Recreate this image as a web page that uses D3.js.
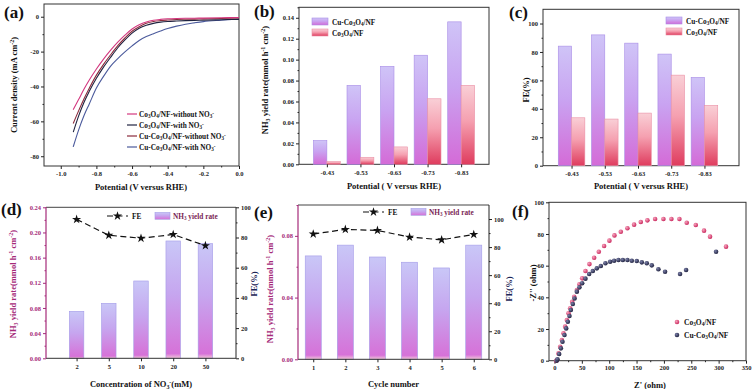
<!DOCTYPE html>
<html>
<head>
<meta charset="utf-8">
<script src="https://cdn.jsdelivr.net/npm/d3@7/dist/d3.min.js"></script>
<style>
body { margin: 0; background: #fff; }
</style>
</head>
<body>
<svg id="fig" width="753" height="389"></svg>
<script>
// ---- (a) LSV curves
var lsvPotential = [-0.93, -0.90, -0.87, -0.84, -0.80, -0.76, -0.72, -0.68, -0.64, -0.60, -0.56,
                    -0.52, -0.48, -0.44, -0.40, -0.35, -0.30, -0.25, -0.20, -0.10, 0.0];
var lsvCoWithout = [-53.3, -47.5, -41.6, -36.3, -30.0, -24.3, -19.2, -14.6, -10.6, -7.0, -4.6,
                    -3.0, -2.0, -1.5, -1.2, -1.0, -0.9, -0.85, -0.8, -0.6, -0.4];
var lsvCoWith = [-66.2, -57.0, -49.2, -42.8, -35.3, -28.9, -23.2, -17.8, -13.3, -9.4, -6.6,
                 -4.9, -3.8, -3.1, -2.7, -2.45, -2.25, -2.1, -1.95, -1.7, -1.5];
var lsvCuWithout = [-61.2, -54.0, -47.2, -41.0, -33.5, -27.3, -21.8, -16.6, -12.2, -8.3, -5.7,
                    -3.8, -2.7, -2.2, -1.9, -1.6, -1.45, -1.35, -1.25, -1.0, -0.7];
var lsvCuWith = [-74.6, -65.0, -56.8, -50.0, -40.9, -34.2, -28.3, -24.0, -20.2, -16.7, -13.6,
                 -11.4, -9.7, -8.2, -6.8, -5.4, -4.3, -3.5, -2.8, -2.0, -1.3];
var lsvNames = ["Co_{3}O_{4}/NF-without NO_{3}^{-}", "Co_{3}O_{4}/NF-with NO_{3}^{-}",
                "Cu-Co_{3}O_{4}/NF-without NO_{3}^{-}", "Cu-Co_{3}O_{4}/NF-with NO_{3}^{-}"];

// ---- (b), (c) potential series
var potentialCats = ["-0.43", "-0.53", "-0.63", "-0.73", "-0.83"];
var yieldCu = [0.0227, 0.0754, 0.0936, 0.1042, 0.1361];
var yieldCo = [0.0026, 0.0067, 0.0166, 0.0626, 0.0754];
var feCu = [84.1, 92.0, 86.2, 78.5, 62.1];
var feCo = [33.7, 32.8, 37.0, 63.7, 42.4];

// ---- (d) nitrate concentration
var concCats = ["2", "5", "10", "20", "50"];
var concYield = [0.0747, 0.0874, 0.1229, 0.1865, 0.1823];
var concFE = [92.0, 81.5, 79.5, 82.0, 74.6];

// ---- (e) cycles
var cycleCats = ["1", "2", "3", "4", "5", "6"];
var cycleYield = [0.067, 0.074, 0.0663, 0.0629, 0.0592, 0.074];
var cycleFE = [89.3, 92.6, 91.9, 87.1, 85.2, 89.0];

// ---- (f) Nyquist points
var eisCoX = [3.0, 4.4, 7.3, 10.4, 13.5, 16.5, 19.5, 22.6, 25.6, 28.7, 32.3, 36.0, 40.9, 45.6, 50.6, 56.6,
              63.9, 72.5, 81.0, 90.7, 100.4, 109.6, 121.2, 133.3, 145.5, 157.7, 169.8, 183.9, 199.1,
              213.7, 228.3, 241.7, 258.2, 273.3, 284.3, 313.5];
var eisCoY = [0.0, 0.4, 4.6, 8.8, 13.1, 17.3, 21.5, 25.7, 29.9, 33.1, 37.2, 40.4, 44.6, 48.2, 52.0, 56.6,
              61.0, 65.0, 68.8, 72.4, 75.8, 79.1, 81.4, 83.6, 85.9, 87.6, 88.6, 89.5, 89.5,
              89.5, 89.5, 87.1, 85.7, 82.1, 78.3, 72.0];
var eisCuX = [4.0, 5.5, 8.6, 11.7, 14.6, 18.3, 21.4, 24.4, 27.4, 29.9, 33.5, 36.7, 40.9, 45.6, 50.6, 56.6,
              63.4, 70.1, 77.4, 84.7, 93.1, 101.7, 109.0, 116.9, 124.9, 133.3, 141.3, 150.4, 159.6,
              168.7, 177.8, 189.9, 202.1, 229.5, 240.5, 295.3];
var eisCuY = [0.0, 0.9, 4.2, 7.8, 12.0, 16.2, 20.4, 24.6, 28.2, 32.0, 35.8, 39.3, 43.6, 46.3, 48.9, 51.8,
              54.7, 56.6, 58.3, 59.8, 61.5, 62.5, 63.1, 63.6, 63.6, 63.6, 63.1, 62.9, 62.1,
              61.5, 60.2, 57.7, 56.2, 54.7, 57.3, 68.8];

var FONT = '"Liberation Serif", "Times New Roman", serif';
var MAG = "#a52a7a";   // left axis colour in (d),(e)
var NAVY = "#1b2557";
var svg = d3.select("#fig");
var defs = svg.append("defs");

function grad(id, stops) {
    var g = defs.append("linearGradient").attr("id", id)
        .attr("x1", 0).attr("y1", 0).attr("x2", 0).attr("y2", 1);
    stops.forEach(function(s) { g.append("stop").attr("offset", s[0]).attr("stop-color", s[1]); });
}
grad("gPurple", [[0, "#cfc4f7"], [0.45, "#c9a3f1"], [1, "#d46bd7"]]);
grad("gPink", [[0, "#f9cfd6"], [0.45, "#f5a0b0"], [1, "#df3c5e"]]);
grad("gViolet", [[0, "#c9c7f7"], [0.45, "#c6a6ef"], [0.96, "#d672d8"], [1, "#f1c9d9"]]);

function radial(id, c0, c1) {
    var g = defs.append("radialGradient").attr("id", id).attr("cx", 0.35).attr("cy", 0.35).attr("r", 0.7);
    g.append("stop").attr("offset", 0).attr("stop-color", c0);
    g.append("stop").attr("offset", 1).attr("stop-color", c1);
}
radial("rPink", "#f7a3bd", "#c8235a");
radial("rDark", "#7a7fa8", "#1d1f3c");

// text with _{sub} and ^{sup}
function rich(sel, s) {
    s.split(/(_\{[^}]*\}|\^\{[^}]*\})/).forEach(function(p) {
        if (!p) return;
        if (p[0] == "_") sel.append("tspan").attr("baseline-shift", "-25%").attr("font-size", "70%").text(p.slice(2, -1));
        else if (p[0] == "^") sel.append("tspan").attr("baseline-shift", "45%").attr("font-size", "70%").text(p.slice(2, -1));
        else sel.append("tspan").text(p);
    });
    return sel;
}

function label(x, y, s, size, opts) {
    opts = opts || {};
    var t = svg.append("text")
        .attr("font-family", FONT).attr("font-weight", "bold")
        .attr("font-size", size)
        .attr("text-anchor", opts.anchor || "start")
        .attr("fill", opts.color || "#111");
    if (opts.rotate) t.attr("transform", "translate(" + x + "," + y + ") rotate(-90)");
    else t.attr("x", x).attr("y", y);
    return rich(t, s);
}

function hy(f) { return function(d) { return f(d).replace("\u2212", "-"); }; }

function axis(ax, tx, ty, color, size) {
    var g = svg.append("g").attr("transform", "translate(" + tx + "," + ty + ")").call(ax);
    g.attr("font-family", FONT).attr("font-weight", "bold").attr("font-size", size || 6.5)
        .attr("color", color || "#222");
    g.select(".domain").remove();
    return g;
}

function frame(x0, x1, y0, y1) {
    svg.append("rect").attr("x", x0).attr("y", y0).attr("width", x1 - x0).attr("height", y1 - y0)
        .attr("fill", "none").attr("stroke", "#333").attr("stroke-width", 1);
}

// panel letters
[["(a)", 4, 18], ["(b)", 254, 17], ["(c)", 509, 18], ["(d)", 1, 215], ["(e)", 254, 218], ["(f)", 512, 217]]
    .forEach(function(p) { label(p[1], p[2], p[0], 17); });

// ================= (a)
(function() {
    var x = d3.scaleLinear().domain([-1.094, 0]).range([44, 239]);
    var y = d3.scaleLinear().domain([-85.6, 7.3]).range([166, 4]);
    frame(44, 239, 4, 166);
    axis(d3.axisBottom(x).tickValues([-1, -0.8, -0.6, -0.4, -0.2, 0]).tickSize(3).tickPadding(2)
        .tickFormat(hy(d3.format(".1f"))), 0, 166);
    axis(d3.axisBottom(x).tickValues([-0.9, -0.7, -0.5, -0.3, -0.1]).tickSize(1.5).tickFormat(""), 0, 166);
    axis(d3.axisLeft(y).tickValues([0, -20, -40, -60, -80]).tickSize(3).tickPadding(2)
        .tickFormat(hy(d3.format("d"))), 44, 0);
    axis(d3.axisLeft(y).tickValues([-10, -30, -50, -70]).tickSize(1.5).tickFormat(""), 44, 0);

    var series = [lsvCoWithout, lsvCoWith, lsvCuWithout, lsvCuWith];
    var colors = ["#d3377f", "#1f2340", "#8a2b3c", "#4b5a9c"];
    var line = d3.line()
        .x(function(d, i) { return x(lsvPotential[i]); })
        .y(function(d) { return y(d); })
        .curve(d3.curveMonotoneX);
    // draw in back-to-front order so the pink curve sits on top
    [3, 1, 2, 0].forEach(function(k) {
        svg.append("path").datum(series[k]).attr("d", line)
            .attr("fill", "none").attr("stroke", colors[k]).attr("stroke-width", 1.1);
    });
    lsvNames.forEach(function(n, i) {
        var yy = 114 + i * 11;
        svg.append("line").attr("x1", 127).attr("x2", 137).attr("y1", yy).attr("y2", yy)
            .attr("stroke", colors[i]).attr("stroke-width", 1.2);
        label(139, yy + 2.5, n, 7.3);
    });
    label(17, 85, "Current density (mA cm^{-2})", 8.5, {rotate: true, anchor: "middle"});
    label(141, 190, "Potential (V versus RHE)", 8.5, {anchor: "middle"});
})();

// ================= (b) & (c) paired bars
function pairedBars(o) {
    var x = d3.scalePoint().domain(potentialCats).range(o.xr).padding(o.pad);
    var y = d3.scaleLinear().domain(o.ydom).range([o.y1, o.y0]);
    var w = x.step() * 0.4;
    frame(o.x0, o.x1, o.y0, o.y1);
    var sets = [[o.a, "url(#gPurple)", "#a88ce6", 0], [o.b, "url(#gPink)", "#ea8fa5", 1]];
    sets.forEach(function(s) {
        svg.append("g").selectAll("rect").data(s[0]).enter().append("rect")
            .attr("x", function(d, i) { return x(potentialCats[i]) - w + s[3] * w; })
            .attr("y", function(d) { return y(d); })
            .attr("width", w)
            .attr("height", function(d) { return y(0) - y(d); })
            .attr("fill", s[1]).attr("stroke", s[2]).attr("stroke-width", 0.6);
    });
    axis(d3.axisBottom(x).tickSize(3).tickPadding(3), 0, o.y1);
    axis(d3.axisLeft(y).tickValues(o.ticks).tickSize(3).tickPadding(2).tickFormat(o.fmt), o.x0, 0);
    axis(d3.axisLeft(y).tickValues(o.minor).tickSize(1.5).tickFormat(""), o.x0, 0);
    // legend
    [["Cu-Co_{3}O_{4}/NF", "url(#gPurple)", "#a88ce6"], ["Co_{3}O_{4}/NF", "url(#gPink)", "#ea8fa5"]]
        .forEach(function(l, i) {
            svg.append("rect").attr("x", o.lx).attr("y", o.ly + i * 11).attr("width", 16).attr("height", 7)
                .attr("fill", l[1]).attr("stroke", l[2]).attr("stroke-width", 0.6);
            label(o.lx + 20, o.ly + i * 11 + 6.5, l[0], 7.3);
        });
    label(o.ylx, o.yly, o.ylabel, 8.5, {rotate: true, anchor: "middle"});
    label((o.x0 + o.x1) / 2, 189, "Potential ( V versus RHE)", 8.5, {anchor: "middle"});
}

pairedBars({
    a: yieldCu, b: yieldCo, xr: [299, 489], pad: 0.83, x0: 299, x1: 489, y0: 7.3, y1: 164.3,
    ydom: [0, 0.15], ticks: d3.range(0, 0.1401, 0.02), minor: d3.range(0.01, 0.151, 0.02),
    fmt: d3.format(".2f"), lx: 312, ly: 18, ylx: 268, yly: 80,
    ylabel: "NH_{3} yield rate(mmol h^{-1} cm^{-2})"
});
pairedBars({
    a: feCu, b: feCo, xr: [540, 736], pad: 0.95, x0: 543, x1: 739, y0: 9.3, y1: 165.7,
    ydom: [0, 110], ticks: [0, 20, 40, 60, 80, 100], minor: [10, 30, 50, 70, 90],
    fmt: d3.format("d"), lx: 666, ly: 17, ylx: 529, yly: 90,
    ylabel: "FE(%)"
});

// ================= (d) & (e) bars + FE line
function comboPanel(o) {
    var x = d3.scalePoint().domain(o.cats).range([o.x0, o.x1]).padding(o.pad);
    var y = d3.scaleLinear().domain(o.ydom).range([o.y1, o.y0]);
    var yr = d3.scaleLinear().domain(o.rdom).range([o.y1, o.y0]);
    var w = x.step() * o.bw;
    svg.append("g").selectAll("rect").data(o.bars).enter().append("rect")
        .attr("x", function(d, i) { return x(o.cats[i]) - w / 2; })
        .attr("y", function(d) { return y(d); })
        .attr("width", w)
        .attr("height", function(d) { return y(0) - y(d); })
        .attr("fill", "url(#gViolet)").attr("stroke", "#a49be8").attr("stroke-width", 0.6);
    // frame: top + bottom dark, left magenta, right dark
    svg.append("line").attr("x1", o.x0).attr("x2", o.x1).attr("y1", o.y0).attr("y2", o.y0).attr("stroke", "#444");
    svg.append("line").attr("x1", o.x0).attr("x2", o.x1).attr("y1", o.y1).attr("y2", o.y1).attr("stroke", "#333");
    svg.append("line").attr("x1", o.x1).attr("x2", o.x1).attr("y1", o.y0).attr("y2", o.y1).attr("stroke", "#222");
    svg.append("line").attr("x1", o.x0).attr("x2", o.x0).attr("y1", o.y0).attr("y2", o.y1).attr("stroke", MAG).attr("stroke-width", 1.2);

    var line = d3.line()
        .x(function(d, i) { return x(o.cats[i]); })
        .y(function(d) { return yr(d); });
    svg.append("path").datum(o.fe).attr("d", line).attr("fill", "none")
        .attr("stroke", "#111").attr("stroke-width", 1.2).attr("stroke-dasharray", "6,3.5");
    var star = d3.symbol().type(d3.symbolStar).size(26);
    svg.append("g").selectAll("path").data(o.fe).enter().append("path")
        .attr("d", star)
        .attr("transform", function(d, i) { return "translate(" + x(o.cats[i]) + "," + yr(d) + ")"; })
        .attr("fill", "#111");

    axis(d3.axisBottom(x).tickSize(3).tickPadding(3), 0, o.y1);
    axis(d3.axisLeft(y).tickValues(o.ticks).tickSize(3).tickPadding(2).tickFormat(d3.format(".2f")), o.x0, 0, MAG);
    axis(d3.axisLeft(y).tickValues(o.minor).tickSize(1.5).tickFormat(""), o.x0, 0, MAG);
    axis(d3.axisRight(yr).tickValues(o.rticks).tickSize(3).tickPadding(2).tickFormat(d3.format("d")), o.x1, 0);
    axis(d3.axisRight(yr).tickValues(o.rminor).tickSize(1.5).tickFormat(""), o.x1, 0);

    // legend
    svg.append("line").attr("x1", o.lx).attr("x2", o.lx + 21).attr("y1", o.ly).attr("y2", o.ly)
        .attr("stroke", "#111").attr("stroke-width", 1.2).attr("stroke-dasharray", "6,3.5");
    svg.append("path").attr("d", star).attr("transform", "translate(" + (o.lx + 10.5) + "," + o.ly + ")").attr("fill", "#111");
    label(o.lx + 25, o.ly + 2.5, "FE", 7.3);
    svg.append("rect").attr("x", o.lx + 48).attr("y", o.ly - 3.5).attr("width", 15).attr("height", 7)
        .attr("fill", "url(#gViolet)").attr("stroke", "#a49be8").attr("stroke-width", 0.6);
    label(o.lx + 66, o.ly + 2.5, "NH_{3} yield rate", 7.3, {color: "#7a1f55"});

    label(o.ylx, o.yly, "NH_{3} yield rate(mmol h^{-1} cm^{-2})", 8.5, {rotate: true, anchor: "middle", color: MAG});
    label(o.rlx, o.yly, "FE(%)", 8.5, {rotate: true, anchor: "middle", color: NAVY});
    label((o.x0 + o.x1) / 2, 387, o.xlabel, 8.5, {anchor: "middle"});
}

comboPanel({
    cats: concCats, bars: concYield, fe: concFE, x0: 46, x1: 236, y0: 207.3, y1: 358.3, pad: 0.95, bw: 0.45,
    ydom: [0, 0.24], rdom: [0, 100], ticks: d3.range(0, 0.2401, 0.04), minor: d3.range(0.02, 0.24, 0.04),
    rticks: [0, 20, 40, 60, 80, 100], rminor: [10, 30, 50, 70, 90],
    lx: 107, ly: 216, ylx: 16, rlx: 257, yly: 284, xlabel: "Concentration of NO_{3}^{-}(mM)"
});
comboPanel({
    cats: cycleCats, bars: cycleYield, fe: cycleFE, x0: 298, x1: 489, y0: 205, y1: 359.3, pad: 0.475, bw: 0.5,
    ydom: [0, 0.1], rdom: [0, 110], ticks: [0, 0.04, 0.08], minor: [0.02, 0.06, 0.1],
    rticks: [0, 20, 40, 60, 80, 100], rminor: [10, 30, 50, 70, 90],
    lx: 363, ly: 212, ylx: 273, rlx: 512, yly: 289, xlabel: "Cycle number"
});

// ================= (f) Nyquist
(function() {
    var x = d3.scaleLinear().domain([-10, 350]).range([549, 746]);
    var y = d3.scaleLinear().domain([0, 100]).range([360.7, 202.3]);
    frame(549, 746, 202.3, 360.7);
    axis(d3.axisBottom(x).tickValues(d3.range(0, 351, 50)).tickSize(3).tickPadding(2), 0, 360.7);
    axis(d3.axisBottom(x).tickValues(d3.range(25, 350, 50)).tickSize(1.5).tickFormat(""), 0, 360.7);
    axis(d3.axisLeft(y).tickValues(d3.range(0, 101, 20)).tickSize(3).tickPadding(2), 549, 0);
    axis(d3.axisLeft(y).tickValues(d3.range(10, 100, 20)).tickSize(1.5).tickFormat(""), 549, 0);

    svg.append("g").selectAll("circle").data(eisCoX).enter().append("circle")
        .attr("cx", function(d) { return x(d); })
        .attr("cy", function(d, i) { return y(eisCoY[i]); })
        .attr("r", 2.3).attr("fill", "url(#rPink)");
    svg.append("g").selectAll("circle").data(eisCuX).enter().append("circle")
        .attr("cx", function(d) { return x(d); })
        .attr("cy", function(d, i) { return y(eisCuY[i]); })
        .attr("r", 2.3).attr("fill", "url(#rDark)");

    [["Co_{3}O_{4}/NF", "url(#rPink)"], ["Cu-Co_{3}O_{4}/NF", "url(#rDark)"]].forEach(function(l, i) {
        svg.append("circle").attr("cx", 677).attr("cy", 322 + i * 13).attr("r", 2.3).attr("fill", l[1]);
        label(684, 324.5 + i * 13, l[0], 7.5);
    });
    label(536, 283, "-Z'' (ohm)", 8.5, {rotate: true, anchor: "middle"});
    label(650, 388, "Z' (ohm)", 8.5, {anchor: "middle"});
})();
</script>
</body>
</html>
